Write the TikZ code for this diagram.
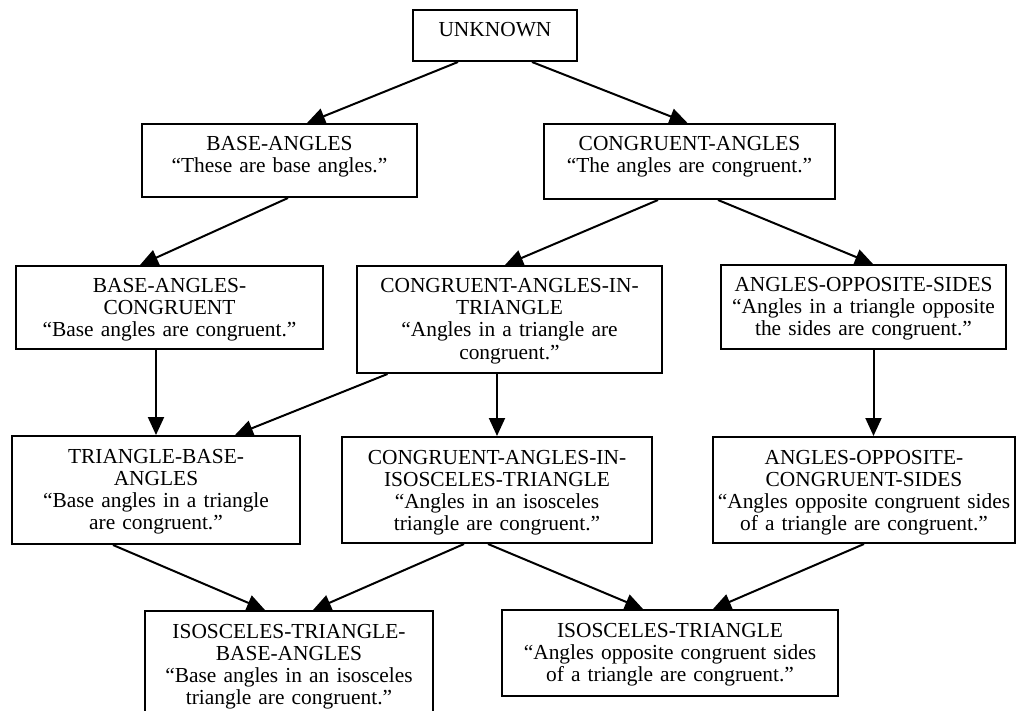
\documentclass[tikz,border=0pt]{standalone}
\usepackage{fontspec}
\setmainfont{Liberation Serif}
\usepackage{tikz}
\usetikzlibrary{arrows.meta,positioning,calc}

\tikzset{
    concept/.style={draw, line width=1pt, align=center, anchor=north,
        inner xsep=0pt, inner ysep=5.5pt, text height=8pt, text width=#1,
        font=\fontsize{10.7}{11}\selectfont},
    link/.style={-{Triangle[length=9pt,width=8pt]}, line width=1pt}
}

\begin{document}
\begin{tikzpicture}[x=0.5pt, y=-0.5pt]
    \useasboundingbox (0,0) rectangle (1018,711);

    % Top
    \node [concept=82pt, text depth=6.5pt] (unknown) at (495,9) {UNKNOWN};

    % Second row
    \node [concept=137.5pt, text depth=17.5pt] (base) at (279.5,123)
        {BASE-ANGLES\\``These are base angles.''};
    \node [concept=145.5pt, text depth=18.5pt] (congr) at (689.5,123)
        {CONGRUENT-ANGLES\\``The angles are congruent.''};

    % Third row
    \node [concept=153.5pt, text depth=22.5pt] (basecongr) at (169.5,265)
        {BASE-ANGLES-\\CONGRUENT\\``Base angles are congruent.''};
    \node [concept=152.5pt, text depth=34.5pt] (congrtri) at (509.5,265)
        {CONGRUENT-ANGLES-IN-\\TRIANGLE\\``Angles in a triangle are\\congruent.''};
    \node [concept=142.5pt, text depth=23pt] (oppsides) at (863.5,264)
        {ANGLES-OPPOSITE-SIDES\\``Angles in a triangle opposite\\the sides are congruent.''};

    % Fourth row
    \node [concept=144pt, text depth=35pt] (tribase) at (156,435)
        {TRIANGLE-BASE-\\ANGLES\\``Base angles in a triangle\\are congruent.''};
    \node [concept=155pt, text depth=34pt] (congriso) at (497,436)
        {CONGRUENT-ANGLES-IN-\\ISOSCELES-TRIANGLE\\``Angles in an isosceles\\triangle are congruent.''};
    \node [concept=151pt, text depth=34pt] (oppcongr) at (864,436)
        {ANGLES-OPPOSITE-\\CONGRUENT-SIDES\\``Angles opposite congruent sides\\of a triangle are congruent.''};

    % Bottom row
    \node [concept=144pt, text depth=35pt] (isobase) at (289,610)
        {ISOSCELES-TRIANGLE-\\BASE-ANGLES\\``Base angles in an isosceles\\triangle are congruent.''};
    \node [concept=168pt, text depth=24pt] (iso) at (670,609)
        {ISOSCELES-TRIANGLE\\``Angles opposite congruent sides\\of a triangle are congruent.''};

    % Links
    \draw [link] ([xshift=-18.5pt]unknown.south) -- ([xshift=13.75pt]base.north);
    \draw [link] ([xshift=18.5pt]unknown.south) -- ([xshift=-1pt]congr.north);
    \draw [link] ([xshift=4.25pt]base.south) -- ([xshift=-14.75pt]basecongr.north);
    \draw [link] ([xshift=-15.75pt]congr.south) -- ([xshift=-2.25pt]congrtri.north);
    \draw [link] ([xshift=14.25pt]congr.south) -- ([xshift=4.75pt]oppsides.north);
    \draw [link] (basecongr.south -| tribase.north) -- (tribase.north);
    \draw [link] ([xshift=-61pt]congrtri.south) -- ([xshift=39.5pt]tribase.north);
    \draw [link] (congrtri.south -| congriso.north) -- (congriso.north);
    \draw [link] ([xshift=5pt]oppsides.south) -- ([xshift=5pt]oppsides.south |- oppcongr.north);
    \draw [link] ([xshift=-21.5pt]tribase.south) -- ([xshift=-12pt]isobase.north);
    \draw [link] ([xshift=-16.5pt]congriso.south) -- ([xshift=12pt]isobase.north);
    \draw [link] ([xshift=-4.5pt]congriso.south) -- ([xshift=-13.5pt]iso.north);
    \draw [link] (oppcongr.south) -- ([xshift=21.5pt]iso.north);
\end{tikzpicture}
\end{document}
